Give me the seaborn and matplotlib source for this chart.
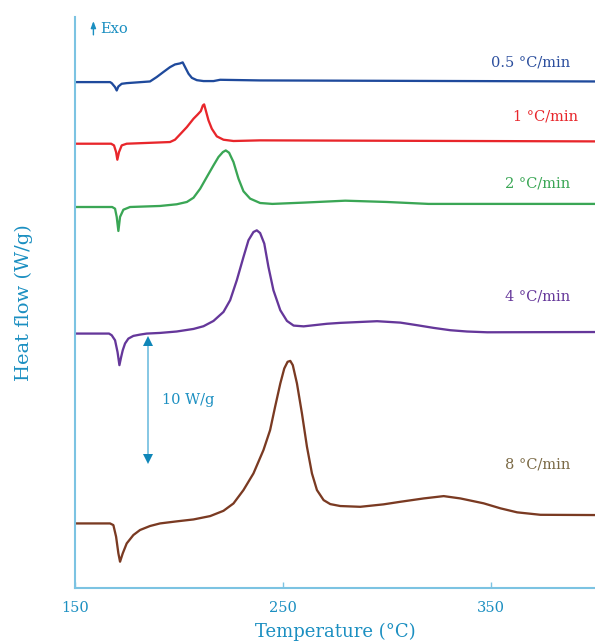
import numpy as np
import pandas as pd
import matplotlib
matplotlib.use("Agg")
import matplotlib.pyplot as plt
import seaborn as sns

# ---- data (temperature in °C, heat flow in W/g, curves stacked) ----
rates = ["0.5 °C/min", "1 °C/min", "2 °C/min", "4 °C/min", "8 °C/min"]

t_05 = [150, 167.0, 167.8, 169.4, 170.2, 171.0, 172.6, 175.0, 186.2, 189.4, 192.6, 195.8, 198.2, 200.6,
        201.9, 203.1, 204.7, 206.3, 208.7, 211.9, 216.7, 219.9, 239.1, 400]
h_05 = [39.25, 39.25, 39.17, 38.86, 38.60, 38.91, 39.12, 39.17, 39.30, 39.64, 40.03, 40.41, 40.62, 40.70,
        40.78, 40.40, 39.90, 39.58, 39.40, 39.33, 39.33, 39.43, 39.38, 39.30]

t_1 = [150, 167.5, 168.9, 169.9, 170.5, 171.3, 172.6, 175.0, 195.8, 198.2, 200.6, 203.9, 207.1, 209.0,
       210.6, 211.6, 212.2, 213.0, 214.3, 215.9, 218.3, 221.5, 226.3, 239.1, 400]
h_1 = [34.47, 34.47, 34.34, 33.82, 33.23, 33.82, 34.34, 34.47, 34.60, 34.78, 35.19, 35.76, 36.41, 36.72,
       37.00, 37.44, 37.52, 37.05, 36.28, 35.63, 35.04, 34.78, 34.68, 34.73, 34.65]

t_2 = [150, 168.0, 169.4, 170.2, 171.0, 171.8, 173.4, 176.6, 191.0, 199.0, 203.9, 207.1, 210.3, 213.5,
       216.7, 219.1, 221.2, 222.6, 224.2, 226.3, 228.7, 231.1, 234.3, 239.1, 245, 260, 280, 300, 320, 400]
h_2 = [29.56, 29.56, 29.43, 28.79, 27.70, 28.79, 29.35, 29.56, 29.64, 29.77, 29.95, 30.28, 30.98, 31.89,
       32.79, 33.44, 33.82, 33.95, 33.77, 33.05, 31.76, 30.78, 30.21, 29.87, 29.80, 29.90, 30.05, 29.95, 29.80, 29.80]

t_4 = [150, 166.5, 167.8, 169.4, 170.6, 171.5, 172.3, 173.1, 174.2, 175.8, 178.2, 181.4, 184.6, 191.0,
       199.0, 207.1, 211.9, 216.7, 221.5, 224.7, 227.9, 231.1, 233.5, 235.9, 237.5, 239.1, 241.1, 243.1,
       245.5, 248.8, 252.0, 255.2, 260.0, 271.2, 277.6, 295.3, 306.5, 314.5, 322.5, 330.5, 338.5, 348.2, 400]
h_4 = [19.74, 19.74, 19.61, 19.22, 18.30, 17.29, 17.90, 18.45, 18.97, 19.35, 19.56, 19.66, 19.74, 19.79,
       19.90, 20.10, 20.31, 20.72, 21.42, 22.33, 23.88, 25.68, 26.98, 27.62, 27.75, 27.54, 26.72, 24.91,
       23.10, 21.55, 20.72, 20.36, 20.30, 20.50, 20.57, 20.70, 20.59, 20.39, 20.18, 20.00, 19.90, 19.84, 19.86]

t_8 = [150, 167.0, 168.6, 169.9, 171.0, 171.8, 173.1, 175.0, 178.2, 181.4, 186.2, 191.0, 199.0, 207.1,
       215.1, 221.5, 226.3, 231.1, 235.9, 240.7, 243.9, 246.3, 248.8, 250.7, 252.3, 253.6, 254.8, 256.8,
       259.2, 261.6, 264.0, 266.4, 269.6, 272.8, 277.6, 287.2, 298.4, 306.5, 317.7, 327.3, 335.3, 346.5,
       354.6, 362.6, 373.8, 400]
h_8 = [5.01, 5.01, 4.88, 3.98, 2.69, 2.04, 2.69, 3.46, 4.11, 4.50, 4.81, 5.01, 5.17, 5.32,
       5.58, 5.99, 6.56, 7.60, 8.89, 10.70, 12.25, 14.06, 15.87, 17.03, 17.55, 17.62, 17.29, 15.87,
       13.54, 10.96, 8.89, 7.60, 6.82, 6.51, 6.36, 6.30, 6.49, 6.69, 6.95, 7.13, 6.95, 6.57,
       6.18, 5.87, 5.68, 5.66]

# label anchors (right edge x, centre y)
label_x = [388.2, 392.0, 388.2, 388.2, 388.2]
label_y = [40.78, 36.59, 31.42, 22.58, 9.61]

x_ticks = [150, 250, 350]

curve_colors = ["#1f4a9c", "#e8262b", "#3aa655", "#65379a", "#7a3a22"]
label_colors = ["#2c4f9e", "#e8262b", "#3aa655", "#65379a", "#7b6a46"]
teal = "#1b8fc1"
spine_c = "#7cc3e2"

frames = []
for name, t, h in zip(rates, [t_05, t_1, t_2, t_4, t_8], [h_05, h_1, h_2, h_4, h_8]):
    frames.append(pd.DataFrame({"T": t, "H": h, "rate": name}))
df = pd.concat(frames, ignore_index=True)

sns.set_style("white")
plt.rcParams["font.family"] = ["DejaVu Serif", "DejaVu Sans"]

fig = plt.figure(figsize=(5.95, 6.42), dpi=100)
ax = fig.add_axes([0.1255, 0.0841, 0.8745, 0.8894])

sns.lineplot(data=df, x="T", y="H", hue="rate", palette=dict(zip(rates, curve_colors)),
             sort=False, estimator=None, lw=1.65, legend=False, ax=ax)
for ln in ax.lines:
    ln.set_solid_joinstyle("round")
    ln.set_solid_capstyle("round")

for name, lx, ly, c in zip(rates, label_x, label_y, label_colors):
    ax.text(lx, ly, name, ha="right", va="center", color=c, fontsize=10.5)

ax.set_xlim(150, 400)
ax.set_ylim(0, 44.3)
ax.set_xticks(x_ticks)
ax.set_xticklabels([str(v) for v in x_ticks])
ax.set_yticks([])
ax.tick_params(axis="x", bottom=True, direction="in", length=4, width=1, color=spine_c,
               labelcolor=teal, labelsize=10.5, pad=9)
for s in ["top", "right"]:
    ax.spines[s].set_visible(False)
for s in ["left", "bottom"]:
    ax.spines[s].set_color(spine_c)
    ax.spines[s].set_linewidth(1.5)

ax.set_xlabel("Temperature (°C)", color=teal, fontsize=13, labelpad=6)
ax.set_ylabel("Heat flow (W/g)", color=teal, fontsize=14, labelpad=30)

# scale bar 10 W/g
ax.plot([185.4, 185.4], [9.9, 19.3], color=spine_c, lw=1.3)
ax.plot([185.4], [19.2], marker="^", color="#0f86b8", ms=7, mew=0)
ax.plot([185.4], [10.0], marker="v", color="#0f86b8", ms=7, mew=0)
ax.text(192.0, 14.6, "10 W/g", color=teal, fontsize=10.5, ha="left", va="center")

# Exo arrow
ax.annotate("", xy=(159.0, 44.2), xytext=(159.0, 42.7),
            arrowprops=dict(arrowstyle="-|>,head_length=0.4,head_width=0.15", color=teal, lw=1.0))
ax.text(162.5, 43.4, "Exo", color=teal, fontsize=10.5, ha="left", va="center")

fig.savefig("out.png", dpi=100)
